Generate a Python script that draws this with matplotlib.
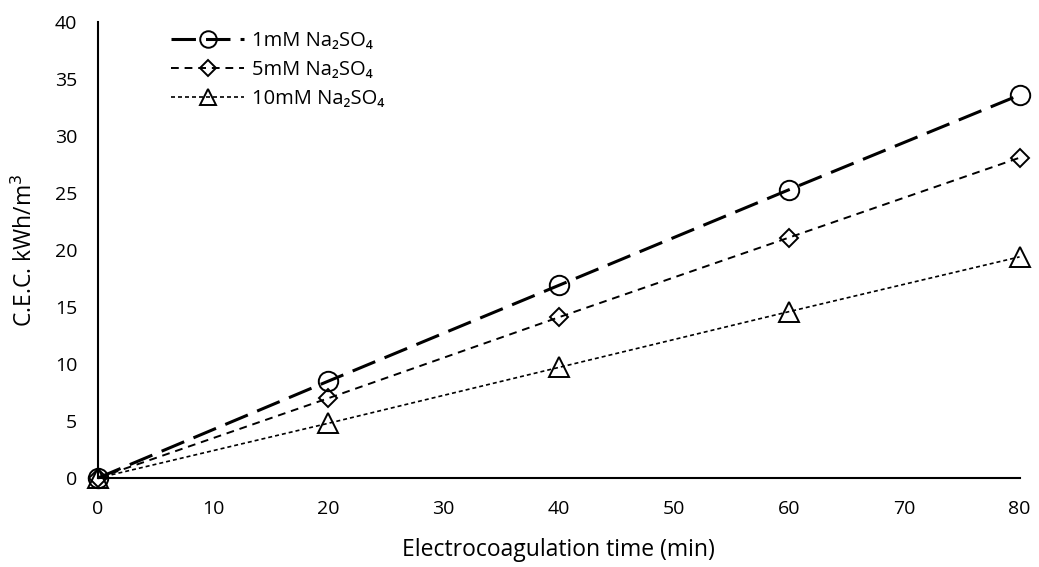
import matplotlib.pyplot as plt
import numpy as np

plt.rcParams['font.family'] = ['Open Sans', 'DejaVu Sans']

# data
time_min = [0, 20, 40, 60, 80]
cec_1mM = [0, 8.5, 16.9, 25.3, 33.6]
cec_5mM = [0, 7.0, 14.1, 21.1, 28.1]
cec_10mM = [0, 4.8, 9.7, 14.6, 19.4]

fig = plt.figure(figsize=(10.39, 5.67), dpi=100)
ax = fig.add_axes([0.0943, 0.157, 0.887, 0.804])

ax.plot(time_min, cec_1mM, color='black', lw=2.2, dashes=(8, 3.3),
        marker='o', ms=14, mfc='none', mew=1.4, clip_on=False,
        label='1mM Na₂SO₄')
ax.plot(time_min, cec_5mM, color='black', lw=1.4, dashes=(4, 3),
        marker='D', ms=9, mfc='none', mew=1.4, clip_on=False,
        label='5mM Na₂SO₄')
ax.plot(time_min, cec_10mM, color='black', lw=1.2, dashes=(2.4, 1.8),
        marker='^', ms=14, mfc='none', mew=1.4, clip_on=False,
        label='10mM Na₂SO₄')

ax.set_xlim(0, 80)
ax.set_ylim(0, 40)
ax.set_xticks(np.arange(0, 81, 10))
ax.set_yticks(np.arange(0, 41, 5))
ax.tick_params(labelsize=14, length=0)
ax.tick_params(axis='x', pad=16)
ax.tick_params(axis='y', pad=15)
ax.spines['top'].set_visible(False)
ax.spines['right'].set_visible(False)
ax.spines['left'].set_linewidth(1.5)
ax.spines['bottom'].set_linewidth(1.5)

ax.set_xlabel('Electrocoagulation time (min)', fontsize=16.5, labelpad=14)
ax.set_ylabel('C.E.C. kWh/m$^3$', fontsize=16.5, labelpad=12)

ax.legend(loc='upper left', bbox_to_anchor=(0.06, 1.02), frameon=False,
          fontsize=14.5, handlelength=3.6, labelspacing=0.45, markerscale=0.85,
          handletextpad=0.4)

fig.savefig('out.png', dpi=100)
